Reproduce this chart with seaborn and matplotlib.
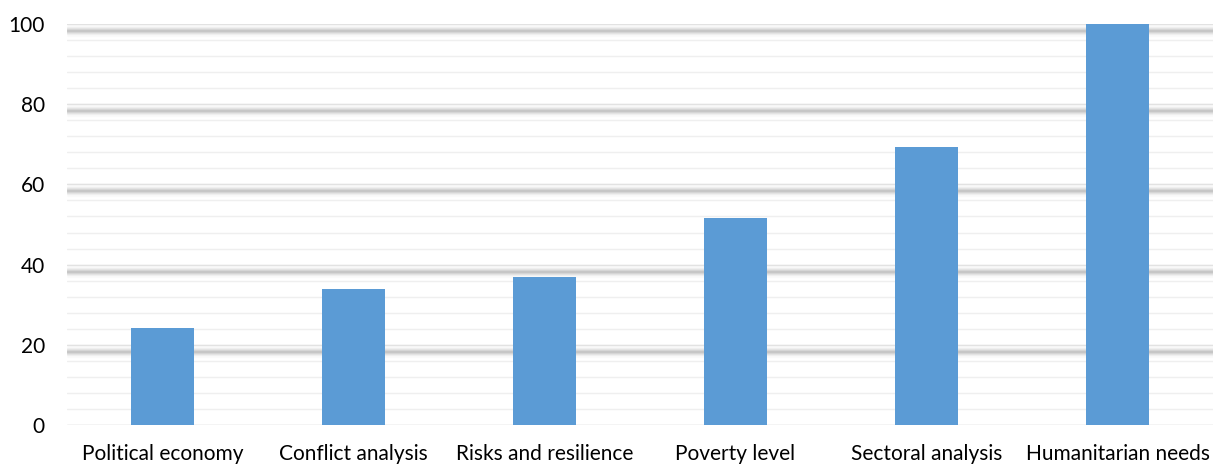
import matplotlib
matplotlib.use("Agg")
import matplotlib.pyplot as plt
import seaborn as sns
import pandas as pd
import numpy as np

categories = ["Political economy", "Conflict analysis", "Risks and resilience",
              "Poverty level", "Sectoral analysis", "Humanitarian needs"]
values = [24.2, 33.8, 37.0, 51.5, 69.4, 100.0]
major_ticks = [0, 20, 40, 60, 80, 100]

df = pd.DataFrame({"category": categories, "value": values})

sns.set_style("white")
plt.rcParams['font.family'] = ['Lato', 'DejaVu Sans']

fig = plt.figure(figsize=(12.15, 4.65), dpi=100)
ax = fig.add_axes([67 / 1215, 40 / 465, 1146 / 1215, 401 / 465])

# thin light gridlines every 4 units
for v in np.arange(0, 101, 4):
    ax.axhline(v, color="#efefef", lw=1.0, zorder=0)

# soft "shadow" under the major gridlines
for v in major_ticks[1:]:
    for lw, a in [(8, 0.04), (6, 0.07), (4.5, 0.10), (3, 0.14), (1.5, 0.18)]:
        ax.axhline(v - 1.75, color="#808080", lw=lw, alpha=a, zorder=0.5,
                   solid_capstyle="butt")
    ax.axhline(v, color="#e2e2e2", lw=1.0, zorder=0.6)

ax.axhline(0, color="#d9d9d9", lw=1.0, zorder=0.6)

sns.barplot(data=df, x="category", y="value", color="#5b9bd5", saturation=1,
            width=0.335, linewidth=0, ax=ax, zorder=2)

ax.set_ylim(0, 100)
ax.set_xlim(-0.5, 5.5)
ax.set_yticks(major_ticks)
ax.set_xlabel("")
ax.set_ylabel("")
ax.tick_params(axis="both", length=0, labelsize=15, colors="black")
ax.tick_params(axis="y", pad=16)
ax.tick_params(axis="x", pad=14)
sns.despine(ax=ax, left=True, bottom=True)

plt.savefig("out.png", dpi=100)
